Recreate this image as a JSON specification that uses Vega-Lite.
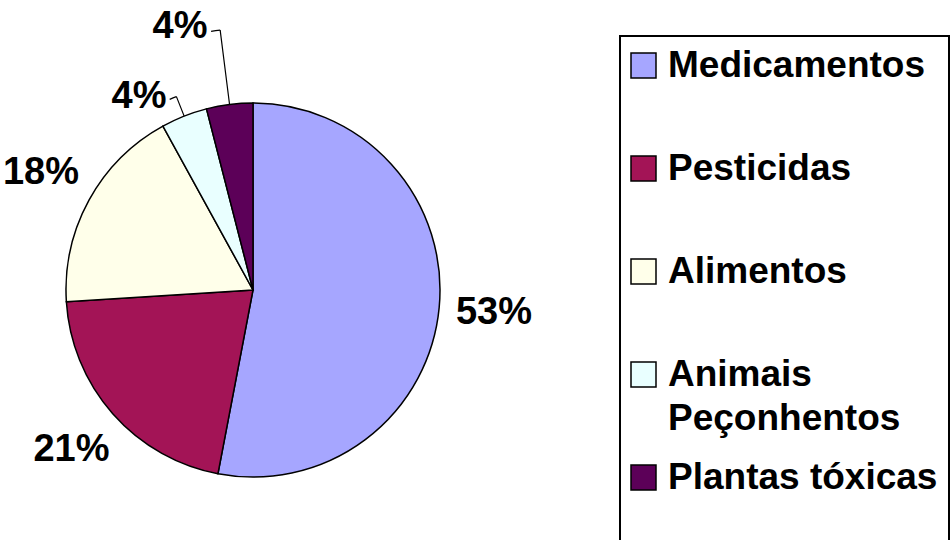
{
  "$schema": "https://vega.github.io/schema/vega-lite/v6.json",
  "width": 506,
  "height": 500,
  "autosize": {"type": "none"},
  "padding": {"left": 0, "top": 40, "right": 445, "bottom": 0},
  "background": "white",
  "config": {
    "view": {"stroke": null},
    "font": "Liberation Sans",
    "legend": {"strokeWidth": 2},
    "style": {"guide-label": {"lineHeight": 44}}
  },
  "data": {
    "values": [
      {"categoria": "Medicamentos", "valor": 0.53, "ordem": 1},
      {"categoria": "Pesticidas", "valor": 0.21, "ordem": 2},
      {"categoria": "Alimentos", "valor": 0.18, "ordem": 3},
      {"categoria": "Animais Peçonhentos", "valor": 0.04, "ordem": 4},
      {"categoria": "Plantas tóxicas", "valor": 0.04, "ordem": 5}
    ]
  },
  "encoding": {
    "theta": {"field": "valor", "type": "quantitative", "stack": true, "scale": {"domain": [0, 1]}},
    "order": {"field": "ordem", "type": "quantitative"}
  },
  "layer": [
    {
      "mark": {"type": "arc", "outerRadius": 187, "stroke": "black", "strokeWidth": 1.5},
      "encoding": {
        "color": {
          "field": "categoria",
          "type": "nominal",
          "scale": {
            "domain": ["Medicamentos", "Pesticidas", "Alimentos", "Animais Peçonhentos", "Plantas tóxicas"],
            "range": ["#A6A6FF", "#A31456", "#FFFFEA", "#E9FFFF", "#5C0058"]
          },
          "legend": {
            "orient": "none",
            "legendX": 620,
            "legendY": -4,
            "title": " ",
            "titleOrient": "bottom",
            "titleFontSize": 38,
            "titlePadding": 12,
            "gridAlign": "all",
            "symbolType": "square",
            "symbolSize": 625,
            "symbolStrokeColor": "black",
            "symbolStrokeWidth": 1.5,
            "symbolOpacity": 1,
            "symbolOffset": -6,
            "labelFont": "Liberation Sans",
            "labelFontSize": 37,
            "labelFontWeight": "bold",
            "labelColor": "black",
            "labelLimit": 400,
            "labelOffset": 6,
            "rowPadding": 21,
            "strokeColor": "black",
            "padding": 11,
            "labelExpr": "datum.label == 'Animais Peçonhentos' ? ['Animais', 'Peçonhentos'] : datum.label"
          }
        }
      }
    },
    {
      "mark": {"type": "text", "radius": 242, "font": "Liberation Sans", "fontSize": 38, "fontWeight": "bold", "color": "black"},
      "encoding": {
        "detail": {"field": "categoria", "type": "nominal"},
        "text": {"field": "valor", "type": "quantitative", "format": ".0%"},
        "opacity": {"condition": {"test": "datum.valor >= 0.05", "value": 1}, "value": 0}
      }
    },
    {
      "mark": {"type": "text", "radius": 224, "thetaOffset": -0.157, "font": "Liberation Sans", "fontSize": 38, "fontWeight": "bold", "color": "black"},
      "encoding": {
        "detail": {"field": "categoria", "type": "nominal"},
        "text": {"field": "valor", "type": "quantitative", "format": ".0%"},
        "opacity": {"condition": {"test": "datum.categoria === 'Animais Peçonhentos'", "value": 1}, "value": 0}
      }
    },
    {
      "mark": {"type": "text", "radius": 273, "thetaOffset": -0.145, "font": "Liberation Sans", "fontSize": 38, "fontWeight": "bold", "color": "black"},
      "encoding": {
        "detail": {"field": "categoria", "type": "nominal"},
        "text": {"field": "valor", "type": "quantitative", "format": ".0%"},
        "opacity": {"condition": {"test": "datum.categoria === 'Plantas tóxicas'", "value": 1}, "value": 0}
      }
    },
    {
      "transform": [{"stack": "valor", "groupby": [], "sort": [{"field": "ordem"}], "as": ["inicio", "fim"]}],
      "layer": [
        {
          "mark": {"type": "arc", "radius": 208, "radius2": 187, "thetaOffset": 0.125664, "theta2Offset": 0.125664, "fill": null, "stroke": "black", "strokeWidth": 1.2},
          "encoding": {
            "theta": {"field": "inicio", "type": "quantitative"},
            "theta2": {"field": "inicio"},
            "strokeOpacity": {"condition": {"test": "datum.categoria === 'Animais Peçonhentos'", "value": 1}, "value": 0}
          }
        },
        {
          "mark": {"type": "arc", "radius": 208, "radius2": 208, "thetaOffset": 0.090664, "theta2Offset": 0.125664, "fill": null, "stroke": "black", "strokeWidth": 1.2},
          "encoding": {
            "theta": {"field": "inicio", "type": "quantitative"},
            "theta2": {"field": "inicio"},
            "strokeOpacity": {"condition": {"test": "datum.categoria === 'Animais Peçonhentos'", "value": 1}, "value": 0}
          }
        },
        {
          "mark": {"type": "arc", "radius": 262, "radius2": 187, "thetaOffset": 0.125664, "theta2Offset": 0.125664, "fill": null, "stroke": "black", "strokeWidth": 1.2},
          "encoding": {
            "theta": {"field": "inicio", "type": "quantitative"},
            "theta2": {"field": "inicio"},
            "strokeOpacity": {"condition": {"test": "datum.categoria === 'Plantas tóxicas'", "value": 1}, "value": 0}
          }
        },
        {
          "mark": {"type": "arc", "radius": 262, "radius2": 262, "thetaOffset": 0.090664, "theta2Offset": 0.125664, "fill": null, "stroke": "black", "strokeWidth": 1.2},
          "encoding": {
            "theta": {"field": "inicio", "type": "quantitative"},
            "theta2": {"field": "inicio"},
            "strokeOpacity": {"condition": {"test": "datum.categoria === 'Plantas tóxicas'", "value": 1}, "value": 0}
          }
        }
      ]
    }
  ]
}
